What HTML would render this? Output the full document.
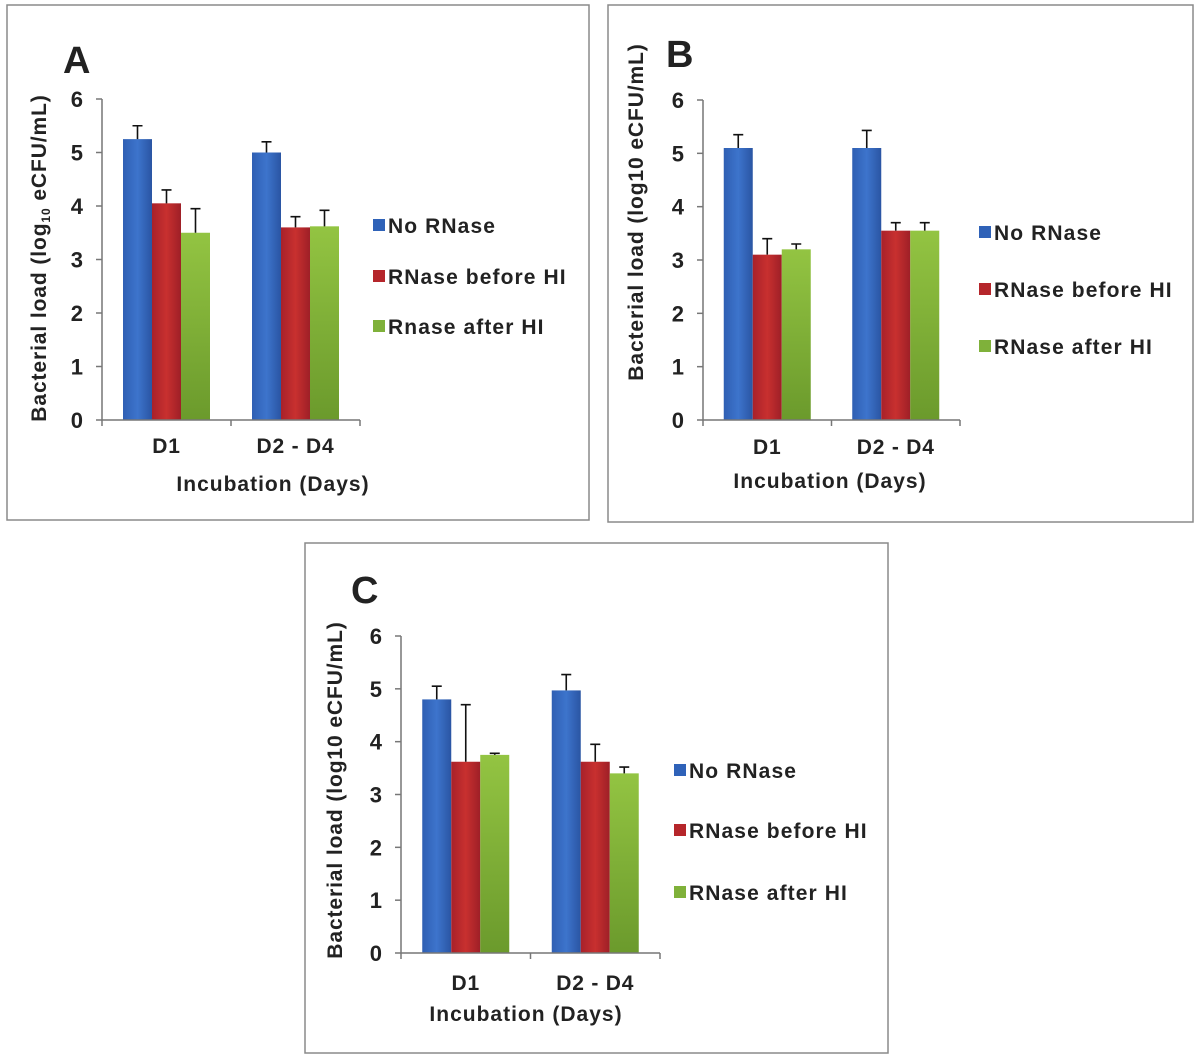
<!DOCTYPE html>
<html><head><meta charset="utf-8">
<style>
html,body{margin:0;padding:0;background:#fff;}
svg{display:block;font-family:"Liberation Sans",Arial,sans-serif;}
text{font-weight:bold;fill:#222;}
</style></head>
<body>
<svg id="fig" width="1200" height="1061" viewBox="0 0 1200 1061">
<defs>
<linearGradient id="gBlue" x1="0" x2="1" y1="0" y2="0"><stop offset="0" stop-color="#2f5fb3"/><stop offset="0.5" stop-color="#3d74cc"/><stop offset="1" stop-color="#2a55a3"/></linearGradient>
<linearGradient id="gRed" x1="0" x2="1" y1="0" y2="0"><stop offset="0" stop-color="#a8212a"/><stop offset="0.5" stop-color="#c8302f"/><stop offset="1" stop-color="#9e1f27"/></linearGradient>
<linearGradient id="gGreen" x1="0" x2="0" y1="0" y2="1"><stop offset="0" stop-color="#93c442"/><stop offset="1" stop-color="#6b9a2c"/></linearGradient>
</defs>
</svg>
<script>
const categories = ["D1", "D2 - D4"];
const yTicks = [0, 1, 2, 3, 4, 5, 6];
const seriesNames = ["No RNase", "RNase before HI", "Rnase after HI"];
const seriesNamesBC = ["No RNase", "RNase before HI", "RNase after HI"];
const aNoRnase = [5.25, 5.0];
const aBefore = [4.05, 3.6];
const aAfter = [3.5, 3.62];
const aNoRnaseErr = [0.25, 0.2];
const aBeforeErr = [0.25, 0.2];
const aAfterErr = [0.45, 0.3];
const bNoRnase = [5.1, 5.1];
const bBefore = [3.1, 3.55];
const bAfter = [3.2, 3.55];
const bNoRnaseErr = [0.25, 0.33];
const bBeforeErr = [0.3, 0.15];
const bAfterErr = [0.1, 0.15];
const cNoRnase = [4.8, 4.97];
const cBefore = [3.62, 3.62];
const cAfter = [3.75, 3.4];
const cNoRnaseErr = [0.25, 0.3];
const cBeforeErr = [1.08, 0.33];
const cAfterErr = [0.03, 0.12];

const NS = "http://www.w3.org/2000/svg";
const svg = document.getElementById("fig");
const fills = ["url(#gBlue)", "url(#gRed)", "url(#gGreen)"];
const legendFills = ["#2f62b8", "#b5262b", "#7fb13a"];
function mk(tag, attrs, parent) {
  const e = document.createElementNS(NS, tag);
  for (const k in attrs) e.setAttribute(k, attrs[k]);
  (parent || svg).appendChild(e);
  return e;
}
function panel(p) {
  const g = mk("g", {});
  
  
  const box = mk("rect", {x: p.box[0], y: p.box[1], width: p.box[2], height: p.box[3], fill: "none", stroke: "#8a8a8a", "stroke-width": 1.5}, g);
  
  
  const lt = mk("text", {x: p.letterPos[0], y: p.letterPos[1], "font-size": 38}, g);
  lt.textContent = p.letter;
  
  
  const yScale = v => p.y0 - (v / 6) * (p.y0 - p.y6);
  const catW = (p.xEnd - p.x0) / categories.length;
  const barW = 29;
  const xBar = (ci, si) => p.x0 + ci * catW + (catW - 3 * barW) / 2 + si * barW;
  const vals = [p.v[0], p.v[1], p.v[2]];
  const errs = [p.e[0], p.e[1], p.e[2]];
  for (let ci = 0; ci < categories.length; ci++) {
    for (let si = 0; si < 3; si++) {
      const v = vals[si][ci];
      const x = xBar(ci, si);
      const r = mk("rect", {x: x, y: yScale(v), width: barW, height: p.y0 - yScale(v), fill: fills[si]}, g);
      
      
      const top = yScale(v + errs[si][ci]);
      const cx = x + barW / 2;
      const eb = mk("path", {d: `M${cx},${yScale(v)}V${top}M${cx - 5},${top}H${cx + 5}`, stroke: "#111", "stroke-width": 1.6, fill: "none"}, g);
      
      
    }
  }
  const ax = mk("path", {d: `M${p.x0},${p.y6}V${p.y0}H${p.xEnd}`, stroke: "#777", "stroke-width": 1.5, fill: "none"}, g);
  
  
  yTicks.forEach(t => {
    const y = yScale(t);
    mk("line", {x1: p.x0 - 6, x2: p.x0, y1: y, y2: y, stroke: "#777", "stroke-width": 1.5}, g);
    const tl = mk("text", {x: p.x0 - 19, y: y + 8, "font-size": 22, "text-anchor": "end"}, g);
    tl.textContent = t;
    
    
  });
  for (let ci = 0; ci <= categories.length; ci++) {
    const x = p.x0 + ci * catW;
    mk("line", {x1: x, x2: x, y1: p.y0, y2: p.y0 + 6, stroke: "#777", "stroke-width": 1.5}, g);
  }
  categories.forEach((c, ci) => {
    const cl = mk("text", {x: p.x0 + (ci + 0.5) * catW, y: p.catY, "font-size": 21, "letter-spacing": 0.8, "text-anchor": "middle"}, g);
    cl.textContent = c;
    
    
  });
  const xt = mk("text", {x: p.xTitleX, y: p.xTitleY, "font-size": 21, "letter-spacing": 1, "text-anchor": "middle"}, g);
  xt.textContent = "Incubation (Days)";
  
  
  const yt = mk("text", {x: 0, y: 0, "font-size": 21, "letter-spacing": 0.9, "text-anchor": "middle", transform: `translate(${p.yTitle[0]},${p.yTitle[1]}) rotate(-90)`}, g);
  if (p.sub) {
    yt.innerHTML = 'Bacterial load (log<tspan font-size="12" dy="4">10</tspan><tspan dy="-4"> eCFU/mL)</tspan>';
  } else {
    yt.textContent = "Bacterial load (log10 eCFU/mL)";
  }
  
  
  p.names.forEach((n, si) => {
    const le = mk("g", {}, g);
    
    
    mk("rect", {x: p.legX, y: p.legY[si] - 6, width: 12, height: 12, fill: legendFills[si]}, le);
    const t = mk("text", {x: p.legX + 15, y: p.legY[si] + 8, "font-size": 21, "letter-spacing": 1.1}, le);
    t.textContent = n;
  });
}
panel({letter: "A", box: [7, 5, 582, 515], letterPos: [63, 73], x0: 102, xEnd: 360, y0: 420, y6: 99,
  v: [aNoRnase, aBefore, aAfter], e: [aNoRnaseErr, aBeforeErr, aAfterErr], catY: 453, xTitleX: 273, xTitleY: 491,
  yTitle: [46, 258], sub: true, names: seriesNames, legX: 373, legY: [225, 276, 326]});
panel({letter: "B", box: [608, 5, 585, 517], letterPos: [666, 67], x0: 703, xEnd: 960, y0: 420, y6: 100,
  v: [bNoRnase, bBefore, bAfter], e: [bNoRnaseErr, bBeforeErr, bAfterErr], catY: 454, xTitleX: 830, xTitleY: 488,
  yTitle: [643, 212], sub: false, names: seriesNamesBC, legX: 979, legY: [232, 289, 346]});
panel({letter: "C", box: [305, 543, 583, 510], letterPos: [351, 603], x0: 401, xEnd: 660, y0: 953, y6: 636,
  v: [cNoRnase, cBefore, cAfter], e: [cNoRnaseErr, cBeforeErr, cAfterErr], catY: 990, xTitleX: 526, xTitleY: 1021,
  yTitle: [342, 790], sub: false, names: seriesNamesBC, legX: 674, legY: [770, 830, 892]});
</script>
</body></html>
